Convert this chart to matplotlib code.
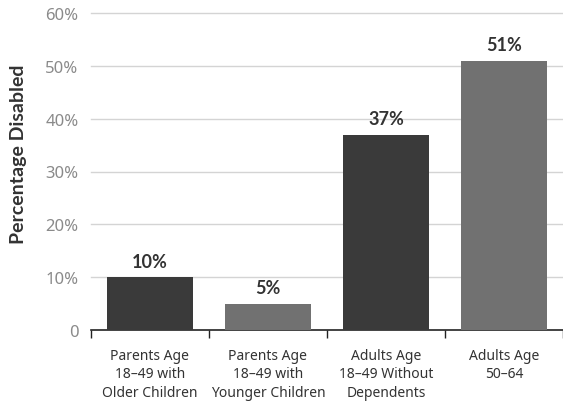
import matplotlib.pyplot as plt
from matplotlib.ticker import FixedLocator

categories = ["Parents Age\n18\u201349 with\nOlder Children",
              "Parents Age\n18\u201349 with\nYounger Children",
              "Adults Age\n18\u201349 Without\nDependents",
              "Adults Age\n50\u201364"]
values = [10, 5, 37, 51]
bar_colors = ["#3a3a3a", "#717171", "#3a3a3a", "#717171"]
y_ticks = [0, 10, 20, 30, 40, 50, 60]
y_tick_labels = ["0", "10%", "20%", "30%", "40%", "50%", "60%"]

plt.rcParams['font.family'] = ['Lato', 'DejaVu Sans']
body_font = ['Noto Sans', 'DejaVu Sans']

fig = plt.figure(figsize=(5.63, 4.06), dpi=100)
ax = fig.add_axes([91 / 563, 1 - 331 / 406, (563 - 91) / 563, (331 - 14) / 406])

x = list(range(len(values)))
ax.bar(x, values, width=0.73, color=bar_colors, zorder=3)
for xi, v in zip(x, values):
    ax.text(xi, v + 1.4, f"{v}%", ha="center", va="bottom",
            fontsize=13, fontweight="bold", color="#333333")

ax.set_xlim(-0.5, 3.5)
ax.set_ylim(0, 60)
ax.set_yticks(y_ticks)
ax.set_yticklabels(y_tick_labels, fontsize=12, color="#8a8a8a", family=body_font)
ax.tick_params(axis="y", length=0, pad=9)
for t in y_ticks[1:]:
    ax.axhline(t, color="#d4d4d4", linewidth=1, zorder=1, clip_on=False)

ax.set_xticks(x)
ax.set_xticklabels(categories, fontsize=10, color="#333333", linespacing=1.3, family=body_font)
ax.tick_params(axis="x", which="major", length=0, pad=13)
ax.xaxis.set_minor_locator(FixedLocator([-0.5, 0.5, 1.5, 2.5, 3.5]))
ax.tick_params(axis="x", which="minor", length=6, width=1, color="#222222", direction="out")

for s in ["top", "right", "left"]:
    ax.spines[s].set_visible(False)
ax.spines["bottom"].set_color("#222222")
ax.spines["bottom"].set_linewidth(1.2)

ax.set_ylabel("Percentage Disabled", fontsize=14, fontweight="bold", color="#333333")
ax.yaxis.set_label_coords((19 - 91) / 472, (331 - 154) / 317)
ax.yaxis.label.set_verticalalignment("center")

fig.savefig("out.png", dpi=100)
